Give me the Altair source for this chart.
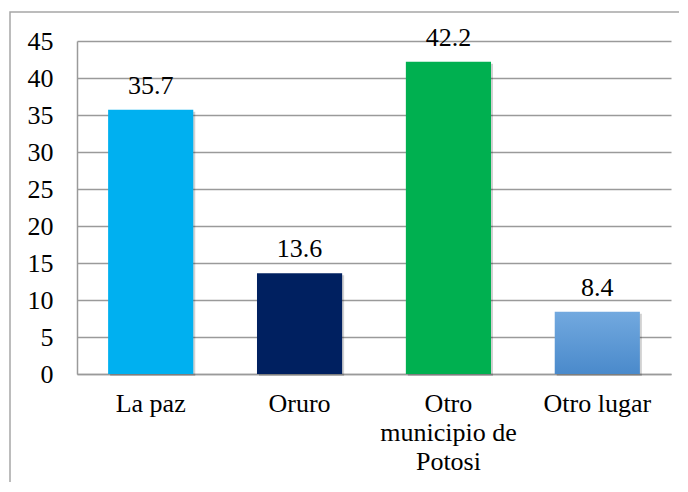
import altair as alt
import pandas as pd

categories = ["La paz", "Oruro", "Otro municipio de Potosi", "Otro lugar"]
values = [35.7, 13.6, 42.2, 8.4]
bar_colors = ["#00B0F0", "#002060", "#00B050", "#5B9BD5"]
y_ticks = [0, 5, 10, 15, 20, 25, 30, 35, 40, 45]

df = pd.DataFrame({"cat": categories, "val": values, "color": bar_colors,
                   "label": [f"{v:.1f}" for v in values]})

FONT = "Liberation Serif"
W, H = 594, 333

x_enc = alt.X("cat:N", sort=categories,
              scale=alt.Scale(paddingInner=0.428, paddingOuter=0.209),
              axis=alt.Axis(title=None, labelAngle=0, ticks=False, domain=True,
                            domainColor="#9A9A9A", domainWidth=1.5,
                            labelFont=FONT, labelFontSize=26, labelColor="#000000",
                            labelPadding=16, labelLineHeight=29, labelBaseline="top",
                            labelExpr="datum.value == 'Otro municipio de Potosi' ? ['Otro', 'municipio de', 'Potosi'] : datum.value"))
y_enc = alt.Y("val:Q", scale=alt.Scale(domain=[0, 45], nice=False),
              axis=alt.Axis(title=None, values=y_ticks, ticks=False, domain=True,
                            domainColor="#9A9A9A", domainWidth=1.5,
                            grid=True, gridColor="#9A9A9A", gridWidth=1.5,
                            labelFont=FONT, labelFontSize=26, labelColor="#000000",
                            labelPadding=24))

base = alt.Chart(df)

border = base.mark_rect(fill=None, stroke="#A6A6A6", strokeWidth=1.5).encode(
    x=alt.value(-67), x2=alt.value(700), y=alt.value(-29), y2=alt.value(600)
).transform_filter("datum.cat == 'La paz'")

shadow = base.mark_bar(color="#000000", opacity=0.18, xOffset=2, yOffset=2).encode(
    x=x_enc, y=y_enc
)

bars_solid = base.transform_filter("datum.cat != 'Otro lugar'").mark_bar().encode(
    x=x_enc, y=y_enc, color=alt.Color("color:N", scale=None)
)

bars_grad = base.transform_filter("datum.cat == 'Otro lugar'").mark_bar(
    color=alt.Gradient(gradient="linear", x1=0, y1=0, x2=0, y2=1,
                       stops=[alt.GradientStop(color="#72A9DF", offset=0),
                              alt.GradientStop(color="#4A8ACB", offset=1)])
).encode(x=x_enc, y=y_enc)

labels = base.mark_text(font=FONT, fontSize=26, color="#000000", dy=-16,
                        baseline="alphabetic", align="center").encode(
    x=x_enc, y=y_enc, text="label:N"
)

chart = alt.layer(border, shadow, bars_solid, bars_grad, labels).properties(
    width=W, height=H,
    autosize=alt.AutoSizeParams(type="none"),
    padding={"left": 69, "top": 33, "right": 8, "bottom": 108},
    background="white",
).configure_view(stroke=None)

chart.save("out.html", embed_options={"renderer": "svg", "actions": False})
